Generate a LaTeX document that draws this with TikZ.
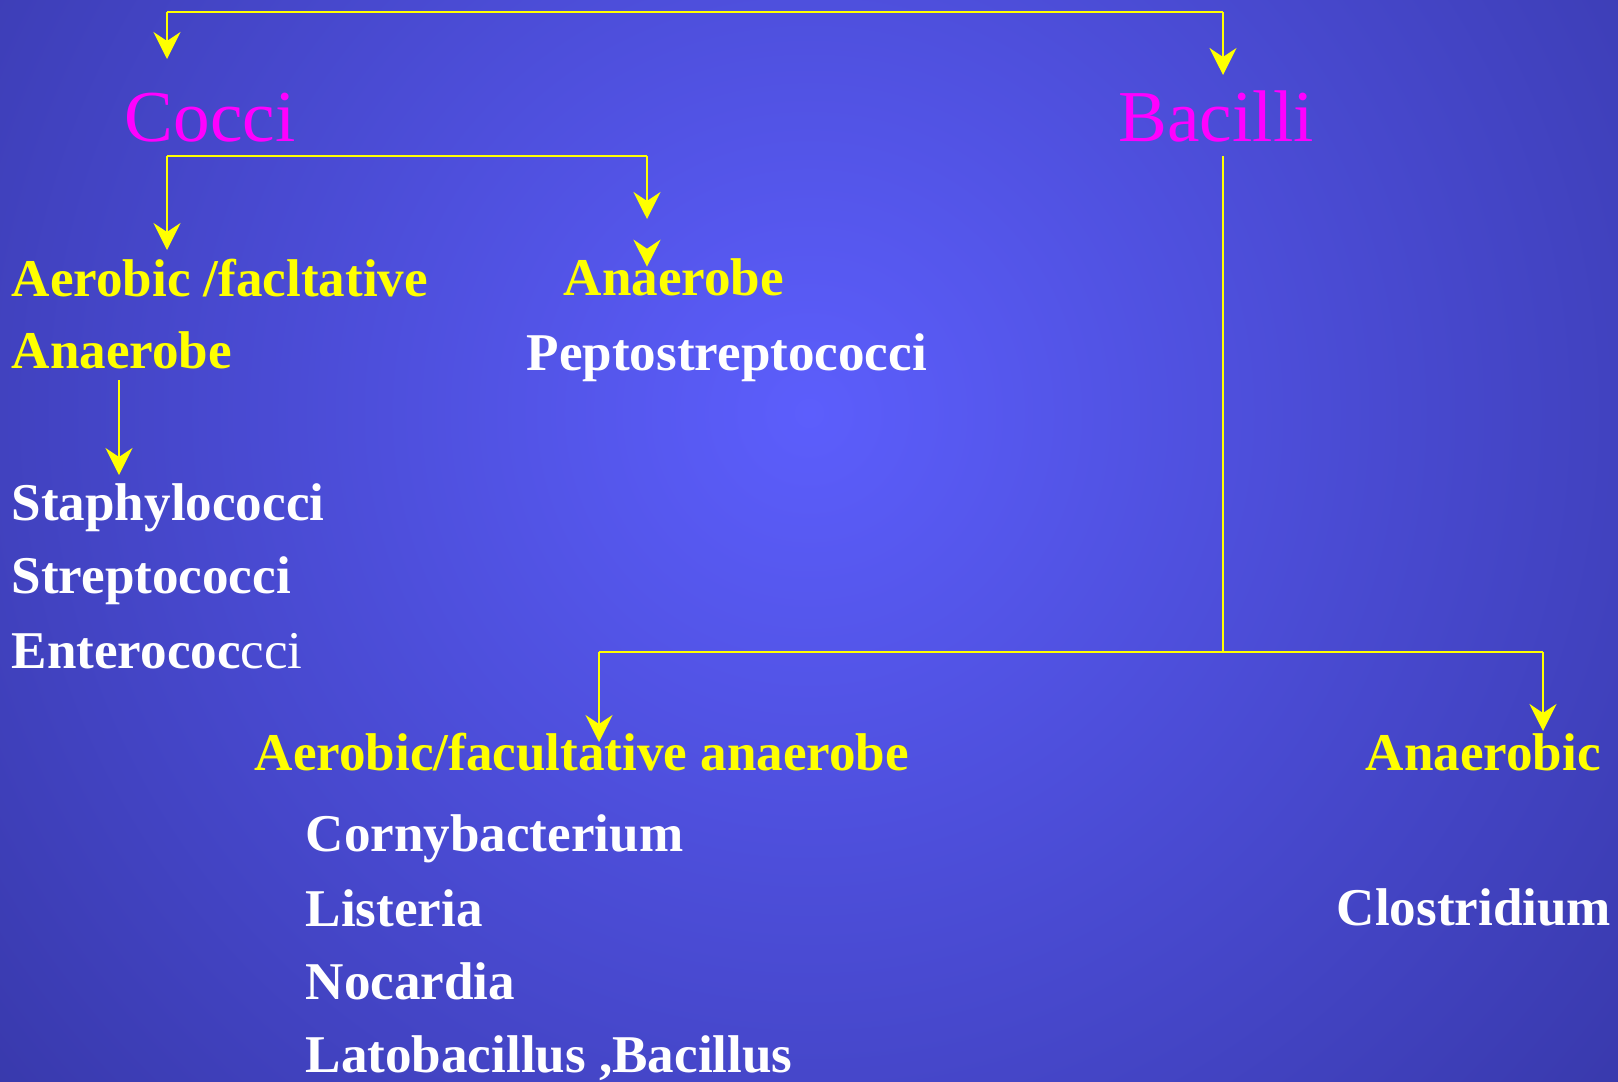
\documentclass[tikz,border=0pt]{standalone}
\usepackage{fontspec}
\setmainfont{Liberation Serif}
\usetikzlibrary{arrows.meta, positioning}
\definecolor{bgin}{RGB}{92,94,252}
\definecolor{bgout}{RGB}{40,40,135}
\definecolor{headmag}{RGB}{255,0,255}
\definecolor{lineyel}{RGB}{255,255,0}

\begin{document}
\begin{tikzpicture}[x=0.01cm, y=-0.01cm, >={Stealth[length=2.7mm, width=2.7mm, inset=0.9mm]},
    every node/.style={inner sep=0pt, anchor=base west},
    head/.style={text=headmag, font=\fontsize{20.8}{24}\selectfont},
    grp/.style={text=lineyel, font=\fontsize{15.1}{18}\selectfont\bfseries},
    item/.style={text=white, font=\fontsize{15.1}{18}\selectfont\bfseries},
    link/.style={draw=lineyel, line width=0.8pt}]
    % background
    \useasboundingbox (0,0) rectangle (1618,1081);
    \fill[bgout] (0,0) rectangle (1618,1081);
    \begin{scope}
        \clip (0,0) rectangle (1618,1081);
        \shade[inner color=bgin, outer color=bgout] (809,413) circle (1550);
    \end{scope}

    % headings
    \node[head] (cocci)   at (124,141)  {Cocci};
    \node[head] (bacilli) at (1118,141) {Bacilli};

    % cocci branch
    \node[grp]  (aerL)   at (11,296)  {Aerobic /facltative};
    \node[grp]  (anaL)   at (11,368)  {Anaerobe};
    \node[grp]  (anaM)   at (563,295) {Anaerobe};
    \node[item] (pepto)  at (526,370) {Peptostreptococci};
    \node[item] (staph)  at (11,520)  {Staphylococci};
    \node[item] (strep)  at (11,593)  {Streptococci};
    \node[item] (entero) at (11,668)  {Enterococ{\mdseries cci}};

    % bacilli branch
    \node[grp]  (aerB)     at (254,770)  {Aerobic/facultative anaerobe};
    \node[grp]  (anaB)     at (1365,770) {Anaerobic};
    \node[item] (coryne)   at (305,851)  {Cornybacterium};
    \node[item] (listeria) at (305,926)  {Listeria};
    \node[item] (nocardia) at (305,999)  {Nocardia};
    \node[item] (lato)     at (305,1072) {Latobacillus ,Bacillus};
    \node[item] (clos)     at (1336,925) {Clostridium};

    % connectors
    \coordinate (topL)    at (167,12);
    \coordinate (topR)    at (1223,12);
    \coordinate (cocciIn) at (167,59);
    \coordinate (bacIn)   at (1223,75);
    \coordinate (cocOutL) at (167,156);
    \coordinate (cocOutR) at (647,156);
    \coordinate (aerLIn)  at (167,250);
    \coordinate (anaMIn)  at (647,219);
    \coordinate (stubA)   at (647,257);
    \coordinate (stubB)   at (647,266.7);
    \coordinate (anaLOut) at (119,380);
    \coordinate (staphIn) at (119,475);
    \coordinate (bacOut)  at (1223,156);
    \coordinate (bacMid)  at (1223,652);
    \coordinate (splitL)  at (599,652);
    \coordinate (splitR)  at (1543,652);
    \coordinate (aerBIn)  at (599,742);
    \coordinate (anaBIn)  at (1543,731);

    \draw[link] (topL) -- (topR);
    \draw[link, ->] (topL) -- (cocciIn);
    \draw[link, ->] (topR) -- (bacIn);
    \draw[link] (cocOutL) -- (cocOutR);
    \draw[link, ->] (cocOutL) -- (aerLIn);
    \draw[link, ->] (cocOutR) -- (anaMIn);
    \draw[link, ->] (stubA) -- (stubB);
    \draw[link, ->] (anaLOut) -- (staphIn);
    \draw[link] (bacOut) -- (bacMid);
    \draw[link] (splitL) -- (splitR);
    \draw[link, ->] (splitL) -- (aerBIn);
    \draw[link, ->] (splitR) -- (anaBIn);
\end{tikzpicture}
\end{document}
